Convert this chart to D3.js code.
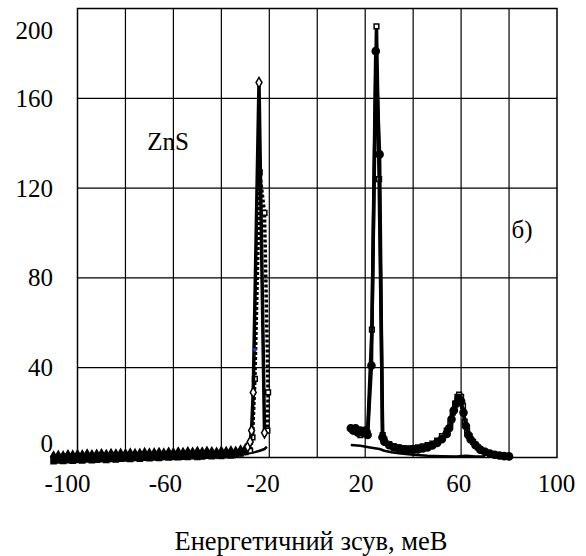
<!DOCTYPE html>
<html>
<head>
<meta charset="utf-8">
<script src="https://cdn.jsdelivr.net/npm/d3@7"></script>
<style>
  html, body { margin: 0; padding: 0; background: #fff; }
  svg { display: block; }
</style>
</head>
<body>
<svg id="chart" width="586" height="556"></svg>
<script>
// ---------- data ----------
const xTicks = [-100, -60, -20, 20, 60, 100];
const xGrid = [-80, -60, -40, -20, 0, 20, 40, 60, 80];
const yTicks = [0, 40, 80, 120, 160, 200];
const yGrid = [40, 80, 120, 160];
const xTitle = "Енергетичний зсув, меВ";
const sampleLabel = "ZnS";
const panelLabel = "б)";

// left baseline energies (meV)
const baseX = [-110,-108,-106,-104,-102,-100,-98,-96,-94,-92,-90,-88,-86,-84,-82,-80,-78,-76,-74,-72,-70,-68,-66,-64,-62,-60,-58,-56,-54,-52,-50,-48,-46,-44,-42,-40,-38,-36,-34,-32,-30];
// series with diamonds (solid line) — left side
const diamBase = [0.3,0.6,0.4,0.9,0.7,1.0,0.8,1.2,0.9,1.1,1.3,1.0,1.4,1.2,1.5,1.3,1.6,1.4,1.5,1.8,1.6,1.7,1.9,1.6,2.0,1.8,2.1,1.9,2.2,2.0,2.3,2.1,2.4,2.2,2.0,2.5,2.3,2.6,2.4,3.0,3.6];
const diamPeakX = [-29, -28, -27.4, -26.7, -24.3, -22];
const diamPeakY = [4.8, 7, 12, 29, 167, 11];
// series with squares (dashed line) — left side
const sqBase = [-1.6,-1.3,-1.5,-1.2,-1.4,-1.1,-1.3,-0.9,-1.2,-1.0,-0.8,-1.1,-0.6,-0.9,-0.5,-0.4,-0.7,-0.2,-0.5,-0.1,-0.3,0.0,-0.2,0.2,0.0,0.3,0.1,0.4,0.2,0.6,0.3,0.5,0.8,0.6,0.9,0.7,1.1,0.9,1.3,1.8,2.5];
const sqPeakX = [-28, -27, -26, -24, -22, -20.5, -20.8];
const sqPeakY = [3, 9, 35, 127, 109, 29, 12];
// thin low curve
const lowLeftX = [-50,-46,-42,-38,-35,-32,-30,-28,-26,-24,-22,-21];
const lowLeftY = [1.0,1.0,1.1,1.2,1.3,1.5,1.7,2.0,2.4,3.0,3.8,4.8];
const lowRightX = [14,18,22,26,28,31,34,40,46,52,58,62,66,70];
const lowRightY = [5.6,5.2,4.5,3.8,3.0,2.3,1.9,1.2,0.8,0.6,0.5,0.8,0.5,0.4];
// right side, circles
const circX = [14,15,16,17,18,19,20,21,22.6,24.4,26,27.2,28,30,32,34,36,38,40,42,44,46,48,50,52,54,55,56,57,58,59,60,61,62,63,64,66,68,70,72,74,76,78,80];
const circY = [13,12,13,11,12,11,12,10,41,181,135,9,7,5.5,4.5,4,3.6,3.5,3.4,3.6,4,4.5,5.4,6.5,8.2,10.5,13,17,21,24,26.5,25,20,14,10,8,5.5,3.5,2.5,1.8,1.2,0.9,0.6,0.5];
// right side, squares
const sqRX = [15,17,18,19.5,21,22.8,24.7,25.8,27.3,28,30,32,34,36,38,40,42,44,46,48,50,52,54,55.5,56.5,57.5,58.5,59.2,60,60.8,61.5,62.5,63.5,65,67,69,71,73,75,77,79];
const sqRY = [12,11,10,11,11,57,192,124,10,8,6,5,4.5,4.2,4,4.2,4.5,5,5.5,6.2,7.5,9.5,12,15,20,24,27,28,27,23,16,12,9.5,7,4.5,3,2,1.5,1,0.6,0.4];
// single blue point
const blueX = [-26];
const blueY = [48];

// ---------- layout ----------
const FONT = "Liberation Serif";
const svg = d3.select("#chart");
const m = { left: 77.5, right: 557, top: 8.5, bottom: 457.5 };
const x = d3.scaleLinear().domain([-100, 100]).range([m.left, m.right]);
const y = d3.scaleLinear().domain([0, 200]).range([m.bottom, m.top]);
const xLab = d3.scaleLinear().domain([-100, 100]).range([67.5, 556.5]);

// grid
const grid = svg.append("g");
grid.selectAll("line.v").data(xGrid).join("line")
  .attr("x1", d => x(d)).attr("x2", d => x(d))
  .attr("y1", m.top).attr("y2", m.bottom)
  .attr("stroke", "#000").attr("stroke-width", 1.2);
grid.selectAll("line.h").data(yGrid).join("line")
  .attr("x1", m.left).attr("x2", m.right)
  .attr("y1", d => y(d)).attr("y2", d => y(d))
  .attr("stroke", "#000").attr("stroke-width", 1.2);
svg.append("rect")
  .attr("x", m.left).attr("y", m.top)
  .attr("width", m.right - m.left).attr("height", m.bottom - m.top)
  .attr("fill", "none").attr("stroke", "#000").attr("stroke-width", 1.5);

// tick labels
function t(sel, size) { return sel.attr("font-family", FONT).attr("font-size", size || 25).attr("fill", "#000"); }
t(svg.append("g").selectAll("text").data(yTicks).join("text"))
  .attr("x", 53).attr("y", d => Math.min(Math.max(y(d), 30), 443) + 8.5)
  .attr("text-anchor", "end").text(d => d);
t(svg.append("g").selectAll("text").data(xTicks).join("text"))
  .attr("x", d => xLab(d)).attr("y", 492)
  .attr("text-anchor", "middle").text(d => d);

t(svg.append("text"), 26.5).attr("x", 311).attr("y", 550).attr("text-anchor", "middle").text(xTitle);
t(svg.append("text")).attr("x", 168).attr("y", 150).attr("text-anchor", "middle").text(sampleLabel);
t(svg.append("text")).attr("x", 522).attr("y", 238).attr("text-anchor", "middle").text(panelLabel);

// ---------- series ----------
const zip = (xs, ys) => xs.map((v, i) => [v, ys[i]]);
const line = d3.line().x(d => x(d[0])).y(d => y(d[1]));
const gData = svg.append("g");

function drawLine(pts, width, dash) {
  gData.append("path").datum(pts).attr("d", line)
    .attr("fill", "none").attr("stroke", "#000")
    .attr("stroke-width", width).attr("stroke-linejoin", "round")
    .attr("stroke-dasharray", dash || null);
}
function drawMarkers(pts, type, size, fill) {
  gData.append("g").selectAll("path").data(pts).join("path")
    .attr("transform", d => `translate(${x(d[0])},${y(d[1])})`)
    .attr("d", d3.symbol().type(type).size(size))
    .attr("fill", fill).attr("stroke", "#000").attr("stroke-width", 1.5);
}

const diamBasePts = zip(baseX, diamBase);
const diamPts = diamBasePts.concat(zip(diamPeakX, diamPeakY));
const sqBasePts = zip(baseX, sqBase);
const sqPts = sqBasePts.concat(zip(sqPeakX, sqPeakY));
const lowL = zip(lowLeftX, lowLeftY);
const lowR = zip(lowRightX, lowRightY);
const circPts = zip(circX, circY);
const sqRPts = zip(sqRX, sqRY);

drawLine(lowL, 2.5);
drawLine(lowR, 2.5);
drawLine(sqPts, 3.5, "3,2");
drawMarkers(sqBasePts, d3.symbolSquare, 26, "#000");
drawMarkers(zip(sqPeakX, sqPeakY), d3.symbolSquare, 22, "#fff");
drawLine(diamPts, 3.5);
drawMarkers(diamBasePts, d3.symbolDiamond, 30, "#000");
drawMarkers(zip(diamPeakX, diamPeakY), d3.symbolDiamond, 30, "#fff");
drawLine(sqRPts, 3.5);
drawMarkers(sqRPts, d3.symbolSquare, 22, "#fff");
drawLine(circPts, 3.5);
drawMarkers(circPts, d3.symbolCircle, 40, "#000");

gData.append("g").selectAll("circle").data(zip(blueX, blueY)).join("circle")
  .attr("cx", d => x(d[0])).attr("cy", d => y(d[1])).attr("r", 2)
  .attr("fill", "#2233cc");
</script>
</body>
</html>
